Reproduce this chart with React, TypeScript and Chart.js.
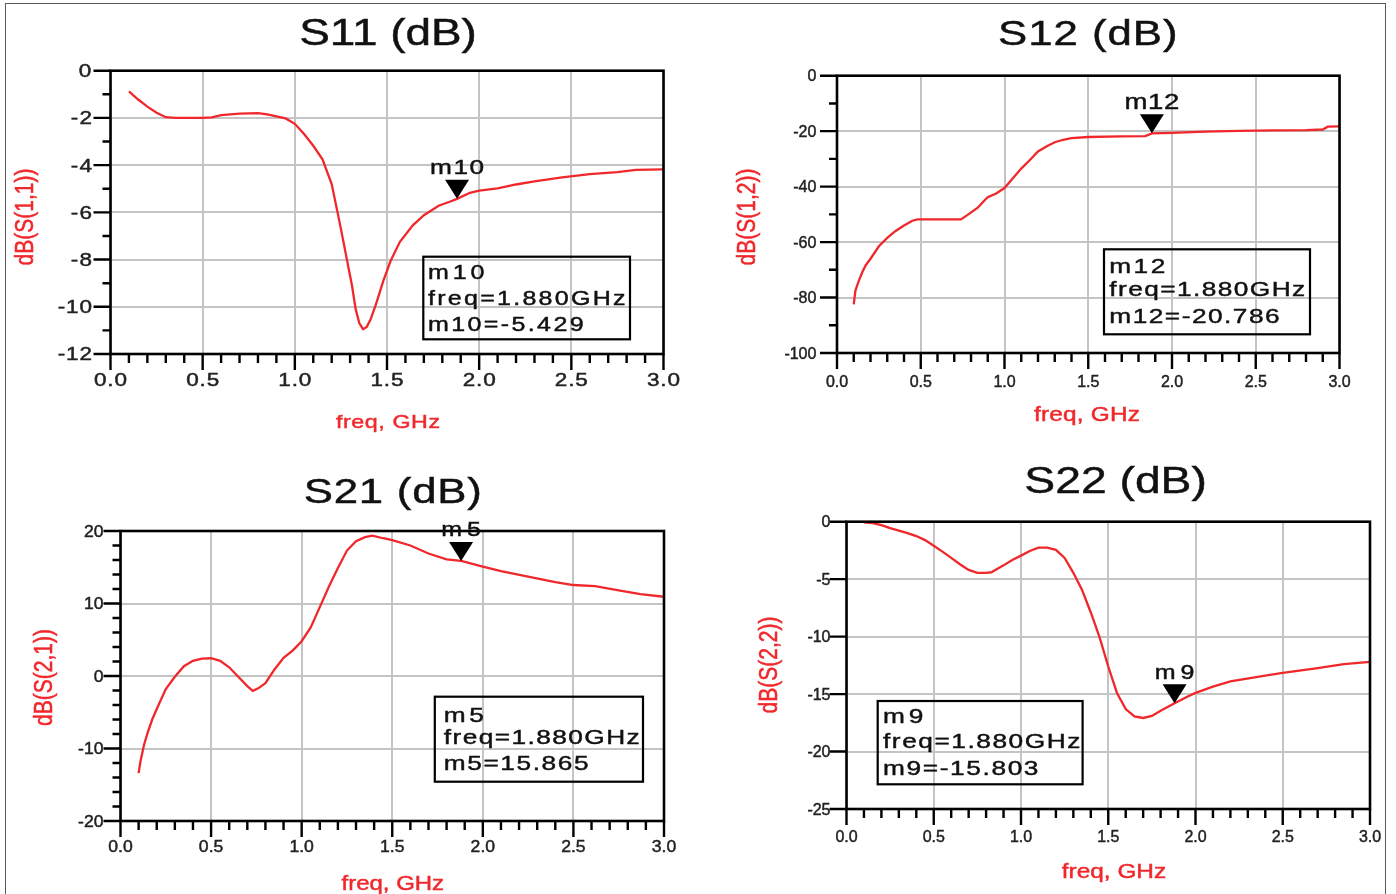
import React, { useEffect, useRef } from "react";
import { Chart, registerables } from "chart.js";

Chart.register(...registerables);

const FONT = "'Liberation Sans', Arial, Helvetica, sans-serif";
const RED = "#f0282c";
const GRID = "#c4c4c4";
const INK = "#111";

// Frequency axis (GHz), shared by the four S-parameter plots
const FREQ_TICKS = [0, 0.5, 1.0, 1.5, 2.0, 2.5, 3.0];
const FREQ_MINOR_STEP = 0.1;

// S11 (dB)
const S11_FREQ = [0.10, 0.15, 0.20, 0.25, 0.30, 0.35, 0.40, 0.50, 0.55, 0.60, 0.70, 0.80, 0.85, 0.90, 0.95, 1.00, 1.05, 1.10, 1.15, 1.20, 1.25, 1.28, 1.31, 1.33, 1.35, 1.37, 1.39, 1.41, 1.44, 1.48, 1.52, 1.57, 1.64, 1.70, 1.78, 1.84, 1.88, 1.95, 2.00, 2.10, 2.20, 2.30, 2.45, 2.60, 2.75, 2.85, 3.00];
const S11_DB = [-0.88, -1.22, -1.52, -1.78, -1.97, -2.0, -2.0, -2.0, -1.98, -1.88, -1.82, -1.80, -1.85, -1.93, -2.02, -2.25, -2.68, -3.18, -3.75, -4.8, -6.7, -7.9, -9.1, -10.1, -10.7, -10.95, -10.85, -10.55, -9.9, -8.9, -8.05, -7.25, -6.55, -6.12, -5.72, -5.55, -5.429, -5.17, -5.08, -4.98, -4.82, -4.69, -4.52, -4.38, -4.30, -4.20, -4.18];
const S11_Y_TICKS = [0, -2, -4, -6, -8, -10, -12];

// S12 (dB)
const S12_FREQ = [0.10, 0.11, 0.13, 0.15, 0.17, 0.20, 0.25, 0.30, 0.35, 0.40, 0.45, 0.48, 0.60, 0.74, 0.78, 0.84, 0.88, 0.90, 0.95, 1.00, 1.05, 1.10, 1.15, 1.20, 1.25, 1.30, 1.35, 1.40, 1.50, 1.70, 1.84, 1.88, 2.00, 2.20, 2.40, 2.60, 2.80, 2.90, 2.93, 3.00];
const S12_DB = [-82.5, -77.5, -74, -71, -68.5, -66, -61.5, -58.5, -56, -54, -52.3, -51.8, -51.8, -51.8, -50.2, -47.6, -45, -43.8, -42.5, -40.5, -37, -33.5, -30.5, -27.3, -25.5, -24.0, -23.1, -22.5, -22.1, -21.9, -21.8, -20.786, -20.6, -20.2, -19.9, -19.7, -19.6, -19.4, -18.4, -18.3];
const S12_Y_TICKS = [0, -20, -40, -60, -80, -100];

// S21 (dB)
const S21_FREQ = [0.10, 0.11, 0.13, 0.15, 0.175, 0.20, 0.25, 0.30, 0.35, 0.40, 0.45, 0.50, 0.55, 0.60, 0.65, 0.70, 0.73, 0.76, 0.80, 0.85, 0.90, 0.95, 1.00, 1.05, 1.10, 1.15, 1.20, 1.25, 1.30, 1.35, 1.39, 1.45, 1.50, 1.60, 1.70, 1.80, 1.88, 2.00, 2.10, 2.25, 2.40, 2.50, 2.62, 2.75, 2.87, 3.00];
const S21_DB = [-13.4, -11.8, -9.5, -7.8, -6.0, -4.55, -1.8, -0.1, 1.35, 2.1, 2.4, 2.45, 2.1, 1.2, -0.1, -1.4, -2.05, -1.7, -1.0, 0.9, 2.5, 3.5, 4.8, 6.7, 9.5, 12.3, 14.9, 17.3, 18.6, 19.15, 19.35, 19.0, 18.75, 18.0, 16.9, 16.1, 15.865, 15.1, 14.45, 13.7, 12.95, 12.55, 12.4, 11.8, 11.3, 10.93];
const S21_Y_TICKS = [20, 10, 0, -10, -20];

// S22 (dB)
const S22_FREQ = [0.10, 0.15, 0.20, 0.25, 0.30, 0.35, 0.40, 0.45, 0.50, 0.55, 0.60, 0.65, 0.70, 0.75, 0.80, 0.83, 0.87, 0.90, 0.95, 1.00, 1.05, 1.10, 1.15, 1.20, 1.25, 1.30, 1.35, 1.40, 1.45, 1.50, 1.55, 1.60, 1.65, 1.70, 1.75, 1.80, 1.88, 1.95, 2.00, 2.10, 2.20, 2.40, 2.50, 2.70, 2.85, 3.00];
const S22_DB = [-0.05, -0.12, -0.3, -0.56, -0.78, -1.0, -1.25, -1.6, -2.1, -2.6, -3.15, -3.7, -4.2, -4.45, -4.45, -4.4, -4.05, -3.8, -3.33, -2.95, -2.55, -2.25, -2.25, -2.45, -3.15, -4.45, -5.95, -7.9, -10.05, -12.6, -14.9, -16.3, -16.95, -17.08, -16.9, -16.45, -15.803, -15.25, -14.9, -14.35, -13.9, -13.4, -13.15, -12.75, -12.4, -12.2];
const S22_Y_TICKS = [0, -5, -10, -15, -20, -25];

// Marker readouts
const MARKER_NAMES = ["m10", "m12", "m5", "m9"];
const MARKER_FREQ = [1.88, 1.88, 1.88, 1.88];
const MARKER_VALUES = [-5.429, -20.786, 15.865, -15.803];

type Align = "left" | "center" | "right";

type PlotSpec = {
  id: string;
  title: string;
  yTitle: string;
  freq: number[];
  db: number[];
  yTicks: number[];
  yMinorStep: number;
  marker: number;
  // page-space layout
  origin: [number, number];
  size: [number, number];
  plot: [number, number, number, number];
  titleAt: { x: number; y: number; size: number; sx: number };
  yTitleAt: { x: number; y: number; size: number; sy: number };
  xTitleAt: { x: number; y: number; size: number; sx: number };
  tickFont: { size: number; sx: number; xBase: number; yGap: number };
  markFont: { size: number; sx: number };
  box: { x0: number; y0: number; x1: number; y1: number; tx: number; lines: number[]; size: number; sx: number };
};

const PLOTS: PlotSpec[] = [
  {
    id: "s11", title: "S11 (dB)", yTitle: "dB(S(1,1))",
    freq: S11_FREQ, db: S11_DB, yTicks: S11_Y_TICKS, yMinorStep: 1, marker: 0,
    origin: [0, 0], size: [698, 447], plot: [110.5, 70.7, 663.5, 354],
    titleAt: { x: 388, y: 45, size: 37, sx: 1.24 },
    yTitleAt: { x: 26, y: 217, size: 21, sy: 1.2 },
    xTitleAt: { x: 388, y: 428, size: 18.6, sx: 1.31 },
    tickFont: { size: 18, sx: 1.32, xBase: 32, yGap: 18.5 },
    markFont: { size: 21, sx: 1.32 },
    box: { x0: 423.3, y0: 256.7, x1: 630, y1: 339.3, tx: 428, lines: [279.3, 305, 330.7], size: 20, sx: 1.45 },
  },
  {
    id: "s12", title: "S12 (dB)", yTitle: "dB(S(1,2))",
    freq: S12_FREQ, db: S12_DB, yTicks: S12_Y_TICKS, yMinorStep: 10, marker: 1,
    origin: [698, 0], size: [698, 447], plot: [837, 75.7, 1339.5, 353],
    titleAt: { x: 1087.8, y: 45, size: 35, sx: 1.3 },
    yTitleAt: { x: 748, y: 217, size: 21, sy: 1.2 },
    xTitleAt: { x: 1087, y: 421, size: 19.5, sx: 1.27 },
    tickFont: { size: 16, sx: 1.0, xBase: 34, yGap: 20.6 },
    markFont: { size: 22, sx: 1.28 },
    box: { x0: 1104, y0: 249.3, x1: 1310, y1: 334.3, tx: 1109.3, lines: [273.3, 296, 323.3], size: 21, sx: 1.37 },
  },
  {
    id: "s21", title: "S21 (dB)", yTitle: "dB(S(2,1))",
    freq: S21_FREQ, db: S21_DB, yTicks: S21_Y_TICKS, yMinorStep: 2, marker: 2,
    origin: [0, 447], size: [698, 447], plot: [120.5, 531, 664, 821],
    titleAt: { x: 392.8, y: 503.3, size: 35, sx: 1.29 },
    yTitleAt: { x: 45, y: 677.5, size: 21, sy: 1.2 },
    xTitleAt: { x: 392.8, y: 890, size: 19.5, sx: 1.23 },
    tickFont: { size: 16.3, sx: 1.08, xBase: 30.7, yGap: 17 },
    markFont: { size: 20, sx: 1.42 },
    box: { x0: 434.8, y0: 696.7, x1: 643, y1: 781.7, tx: 443.8, lines: [721.7, 744, 770], size: 21, sx: 1.37 },
  },
  {
    id: "s22", title: "S22 (dB)", yTitle: "dB(S(2,2))",
    freq: S22_FREQ, db: S22_DB, yTicks: S22_Y_TICKS, yMinorStep: 0, marker: 3,
    origin: [698, 447], size: [698, 447], plot: [846.5, 521.7, 1370, 809],
    titleAt: { x: 1115.6, y: 493.3, size: 37, sx: 1.25 },
    yTitleAt: { x: 770, y: 665, size: 21, sy: 1.2 },
    xTitleAt: { x: 1114, y: 878, size: 19.5, sx: 1.25 },
    tickFont: { size: 16, sx: 1.0, xBase: 32.7, yGap: 16 },
    markFont: { size: 20, sx: 1.42 },
    box: { x0: 877.7, y0: 701, x1: 1082.6, y1: 784.3, tx: 883, lines: [723.3, 747.7, 775], size: 21, sx: 1.38 },
  },
];

// Draws text whose overall width is `sx` times its natural width: mostly a
// horizontal glyph stretch, with letter spacing covering what is left.
function drawText(ctx: CanvasRenderingContext2D, text: string, x: number, y: number, size: number, sx: number, align: Align, color: string) {
  ctx.save();
  ctx.font = `${size}px ${FONT}`;
  ctx.fillStyle = color;
  ctx.strokeStyle = color;
  ctx.lineWidth = 0.45;
  ctx.textAlign = "left";
  ctx.textBaseline = "alphabetic";
  const w0 = ctx.measureText(text).width;
  const target = w0 * sx;
  const s = Math.min(sx, 1.25);
  const n = text.length;
  const canSpace = "letterSpacing" in ctx;
  const ls = canSpace && n > 1 ? (target / s - w0) / (n - 1) : 0;
  const glyphScale = canSpace ? s : sx;
  if (canSpace) (ctx as any).letterSpacing = `${ls}px`;
  const x0 = align === "left" ? x : align === "center" ? x - target / 2 : x - target;
  ctx.translate(x0, y);
  ctx.scale(glyphScale, 1);
  ctx.fillText(text, 0, 0);
  ctx.strokeText(text, 0, 0);
  ctx.restore();
}

function annotations(p: PlotSpec) {
  const [ox, oy] = p.origin;
  return {
    id: "adsAnnotations",
    afterDraw(chart: any) {
      const ctx: CanvasRenderingContext2D = chart.ctx;
      const { left, top, right, bottom } = chart.chartArea;
      const xs = chart.scales.x;
      const ys = chart.scales.y;

      // tick marks outside the plot box
      ctx.save();
      ctx.strokeStyle = "#000";
      ctx.lineWidth = 2.4;
      const xMin = xs.min, xMax = xs.max;
      const nX = Math.round((xMax - xMin) / FREQ_MINOR_STEP);
      ctx.beginPath();
      for (let k = 0; k <= nX; k++) {
        const v = xMin + k * FREQ_MINOR_STEP;
        const major = FREQ_TICKS.some((t) => Math.abs(t - v) < 1e-6);
        const px = xs.getPixelForValue(v);
        ctx.moveTo(px, bottom);
        ctx.lineTo(px, bottom + (major ? 16 : 9));
      }
      for (const v of p.yTicks) {
        const py = ys.getPixelForValue(v);
        ctx.moveTo(left - 17, py);
        ctx.lineTo(left, py);
      }
      if (p.yMinorStep > 0) {
        const nY = Math.round((ys.max - ys.min) / p.yMinorStep);
        for (let k = 0; k <= nY; k++) {
          const v = ys.min + k * p.yMinorStep;
          if (p.yTicks.some((t) => Math.abs(t - v) < 1e-6)) continue;
          const py = ys.getPixelForValue(v);
          ctx.moveTo(left - 8, py);
          ctx.lineTo(left, py);
        }
      }
      ctx.stroke();

      // plot frame
      ctx.lineWidth = 2.6;
      ctx.strokeRect(left, top, right - left, bottom - top);
      ctx.restore();

      // tick labels
      const tf = p.tickFont;
      for (const v of FREQ_TICKS) {
        drawText(ctx, v.toFixed(1), xs.getPixelForValue(v), bottom + tf.xBase, tf.size, tf.sx, "center", "#222");
      }
      for (const v of p.yTicks) {
        drawText(ctx, String(v), left - tf.yGap, ys.getPixelForValue(v) + tf.size * 0.358, tf.size, tf.sx, "right", "#222");
      }

      // titles
      drawText(ctx, p.title, p.titleAt.x - ox, p.titleAt.y - oy, p.titleAt.size, p.titleAt.sx, "center", INK);
      drawText(ctx, "freq, GHz", p.xTitleAt.x - ox, p.xTitleAt.y - oy, p.xTitleAt.size, p.xTitleAt.sx, "center", RED);

      ctx.save();
      ctx.translate(p.yTitleAt.x - ox, p.yTitleAt.y - oy);
      ctx.rotate(-Math.PI / 2);
      ctx.scale(1, p.yTitleAt.sy);
      ctx.font = `${p.yTitleAt.size}px ${FONT}`;
      ctx.fillStyle = RED;
      ctx.strokeStyle = RED;
      ctx.lineWidth = 0.45;
      ctx.textAlign = "center";
      ctx.textBaseline = "middle";
      ctx.fillText(p.yTitle, 0, 0);
      ctx.strokeText(p.yTitle, 0, 0);
      ctx.restore();

      // marker triangle with its name, tip on the trace value
      const name = MARKER_NAMES[p.marker];
      const mf = MARKER_FREQ[p.marker];
      const mv = MARKER_VALUES[p.marker];
      const mx = xs.getPixelForValue(mf);
      const my = ys.getPixelForValue(mv);
      ctx.save();
      ctx.fillStyle = "#000";
      ctx.beginPath();
      ctx.moveTo(mx - 12, my - 19);
      ctx.lineTo(mx + 12, my - 19);
      ctx.lineTo(mx, my);
      ctx.closePath();
      ctx.fill();
      ctx.restore();
      drawText(ctx, name, mx, my - 24.5, p.markFont.size, p.markFont.sx, "center", INK);

      // marker readout box
      const b = p.box;
      ctx.save();
      ctx.strokeStyle = "#000";
      ctx.lineWidth = 2.2;
      ctx.strokeRect(b.x0 - ox, b.y0 - oy, b.x1 - b.x0, b.y1 - b.y0);
      ctx.restore();
      const lines = [name, `freq=${mf.toFixed(3)}GHz`, `${name}=${mv.toFixed(3)}`];
      lines.forEach((t, i) => drawText(ctx, t, b.tx - ox, b.lines[i] - oy, b.size, b.sx, "left", INK));
    },
  };
}

function Plot({ spec }: { spec: PlotSpec }) {
  const ref = useRef<HTMLCanvasElement | null>(null);
  useEffect(() => {
    const canvas = ref.current;
    if (!canvas) return;
    const [ox, oy] = spec.origin;
    const [w, h] = spec.size;
    const [pl, pt, pr, pb] = spec.plot;
    const yMin = Math.min(...spec.yTicks);
    const yMax = Math.max(...spec.yTicks);
    const chart = new Chart(canvas, {
      type: "line",
      data: {
        datasets: [
          {
            data: spec.freq.map((f, i) => ({ x: f, y: spec.db[i] })),
            borderColor: RED,
            borderWidth: 2.3,
            pointRadius: 0,
            tension: 0,
            fill: false,
          },
        ],
      },
      options: {
        responsive: false,
        animation: false,
        events: [],
        layout: { padding: { left: pl - ox, top: pt - oy, right: ox + w - pr, bottom: oy + h - pb } },
        plugins: { legend: { display: false }, tooltip: { enabled: false }, title: { display: false } },
        scales: {
          x: {
            type: "linear",
            min: 0,
            max: 3,
            ticks: { display: false },
            grid: { color: GRID, lineWidth: 2, drawTicks: false },
            border: { display: false },
            afterBuildTicks: (s: any) => {
              s.ticks = FREQ_TICKS.map((v) => ({ value: v }));
            },
            afterFit: (s: any) => {
              s.height = 0;
            },
          },
          y: {
            type: "linear",
            min: yMin,
            max: yMax,
            ticks: { display: false },
            grid: { color: GRID, lineWidth: 2, drawTicks: false },
            border: { display: false },
            afterBuildTicks: (s: any) => {
              s.ticks = spec.yTicks.map((v) => ({ value: v }));
            },
            afterFit: (s: any) => {
              s.width = 0;
            },
          },
        },
      } as any,
      plugins: [annotations(spec)],
    });
    return () => chart.destroy();
  }, [spec]);

  return (
    <canvas
      ref={ref}
      width={spec.size[0]}
      height={spec.size[1]}
      style={{ position: "absolute", left: spec.origin[0], top: spec.origin[1], width: spec.size[0], height: spec.size[1] }}
    />
  );
}

export default function App() {
  return (
    <div style={{ position: "absolute", left: 0, top: 0, width: 1396, height: 894, overflow: "hidden", background: "#fff" }}>
      <div
        style={{
          position: "absolute",
          left: 5,
          top: 3,
          width: 1381,
          height: 1000,
          border: "1.5px solid #5a5a5a",
          boxSizing: "border-box",
        }}
      />
      {PLOTS.map((p) => (
        <Plot key={p.id} spec={p} />
      ))}
    </div>
  );
}
